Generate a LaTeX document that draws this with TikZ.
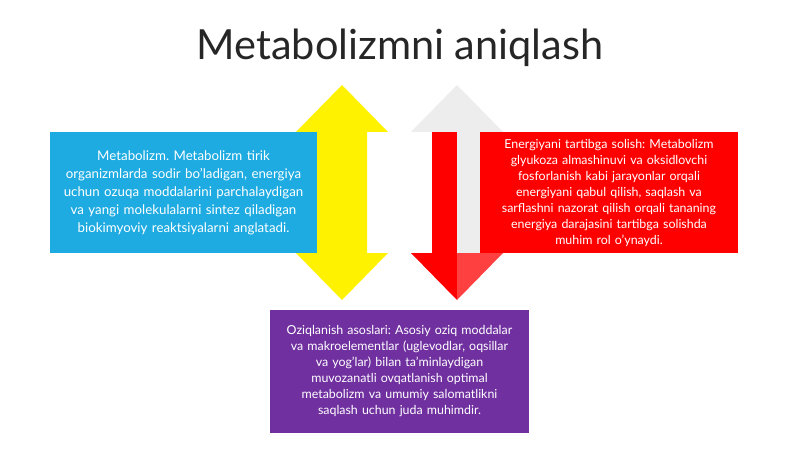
\documentclass[tikz,border=0pt]{standalone}
\usepackage{fontspec}
\setmainfont{Lato}
\frenchspacing
\definecolor{boxblue}{RGB}{29,171,226}
\definecolor{boxred}{RGB}{255,0,0}
\definecolor{boxpurple}{RGB}{112,48,160}
\definecolor{titlegray}{RGB}{38,38,38}
\definecolor{arrowgray}{RGB}{237,237,237}
\definecolor{lightred}{RGB}{255,64,64}
\begin{document}
\begin{tikzpicture}
            [x=1pt,y=-1pt,
             infobox/.style={rectangle,inner sep=0pt,text=white,align=center},
             smalltext/.style={font=\fontsize{12.4}{16}\selectfont,text width=258}]
            \useasboundingbox[fill=white] (0,0) rectangle (800,449);
            \node[anchor=base,text=titlegray,font=\fontsize{41.5}{46}\selectfont] (title) at (400,60) {Metabolizmni aniqlash};
            % yellow up/down arrow
            \fill[yellow] (342,85) -- (388,132) -- (367,132) -- (367,253) -- (388,253) -- (342,300)
              -- (296,253) -- (317,253) -- (317,132) -- (296,132) -- cycle;
            % red down arrow with grey head
            \fill[arrowgray] (457,85) -- (503,132) -- (411,132) -- cycle;
            \fill[boxred] (432,132) rectangle (457,253);
            \fill[arrowgray] (457,132) rectangle (482,253);
            \fill[boxred] (411,253) -- (457,253) -- (457,300) -- cycle;
            \fill[lightred] (457,253) -- (503,253) -- (457,300) -- cycle;
            % text boxes
            \node[infobox,fill=boxblue,minimum width=267,minimum height=121,text width=262,
                  font=\fontsize{13.3}{18}\selectfont] (metab) at (183.5,192.5)
              {Metabolizm. Metabolizm tirik\\organizmlarda sodir bo'ladigan, energiya\\uchun ozuqa moddalarini parchalaydigan\\va yangi molekulalarni sintez qiladigan\\biokimyoviy reaktsiyalarni anglatadi.};
            \node[infobox,fill=boxred,minimum width=258,minimum height=121,smalltext] (energy) at (609,192.5)
              {Energiyani tartibga solish: Metabolizm\\glyukoza almashinuvi va oksidlovchi\\fosforlanish kabi jarayonlar orqali\\energiyani qabul qilish, saqlash va\\sarflashni nazorat qilish orqali tananing\\energiya darajasini tartibga solishda\\muhim rol o'ynaydi.};
            \node[infobox,fill=boxpurple,minimum width=259,minimum height=123,smalltext] (food) at (399.5,371.5)
              {Oziqlanish asoslari: Asosiy oziq moddalar\\va makroelementlar (uglevodlar, oqsillar\\va yog'lar) bilan ta'minlaydigan\\muvozanatli ovqatlanish optimal\\metabolizm va umumiy salomatlikni\\saqlash uchun juda muhimdir.};
        \end{tikzpicture}
\end{document}
